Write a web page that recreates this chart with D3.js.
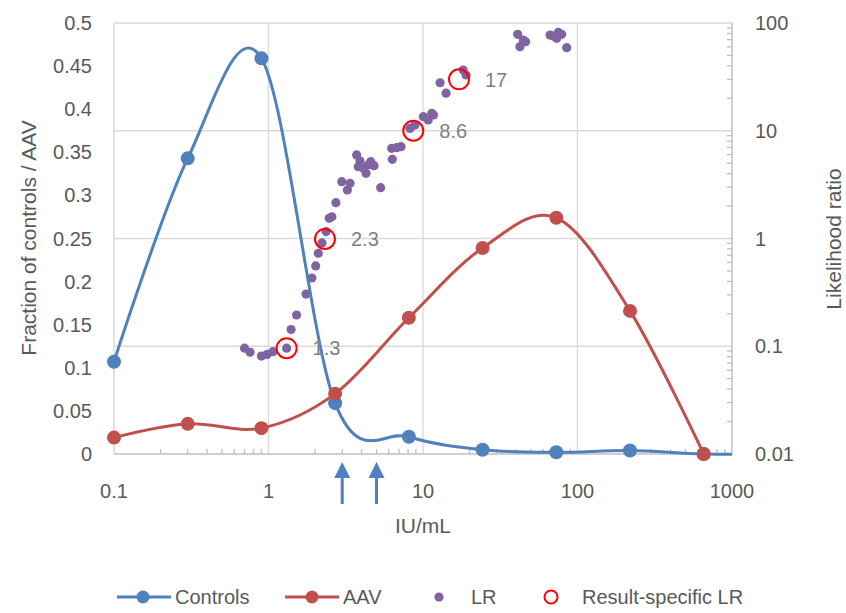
<!DOCTYPE html>
<html><head><meta charset="utf-8">
<script src="https://cdn.jsdelivr.net/npm/d3@7"></script>
<style>body{margin:0;background:#fff}svg text{font-family:"Liberation Sans",Arial,sans-serif}</style>
</head><body><svg id="c" width="846" height="613"></svg>
<script>
// ---- data ----
const iuValues = [0.1, 0.3, 0.9, 2.7, 8.1, 24.3, 72.9, 218.7, 656.1, 1968.3];
const controls = [0.107, 0.343, 0.459, 0.059, 0.020, 0.005, 0.002, 0.004, 0.000, 0.000];
const aav      = [0.019, 0.035, 0.030, 0.070, 0.158, 0.239, 0.274, 0.166, 0.000];
const lrX = [0.70,0.76,0.90,0.98,1.07,1.31,1.40,1.52,1.75,1.91,2.02,2.10,2.22,2.36,2.47,2.57,2.73,2.98,3.37,3.24,3.72,3.91,3.81,4.11,4.28,4.59,4.82,4.41,5.32,6.33,6.27,6.76,7.21,8.24,8.87,10.05,10.8,11.4,11.7,12.9,14.1,18.2,19.0,41.0,44.6,42.4,46.2,66.4,75.2,79.0,73.3,69.7,85.1];
const lrY = [0.096,0.088,0.081,0.084,0.089,0.096,0.143,0.195,0.305,0.43,0.556,0.73,0.91,1.16,1.54,1.59,2.15,3.37,3.25,2.82,5.96,5.24,4.64,4.48,4.03,5.16,4.74,4.81,2.96,5.43,6.87,6.96,7.11,10.5,11.3,13.5,12.6,14.5,14.0,27.9,22.3,36.6,32.9,78.5,69.5,60.3,67.0,77.4,82.0,78.5,72.1,75.7,59.0];
const resX = [1.31, 2.32, 8.65, 17.1];
const resY = [0.096, 0.99, 10.0, 30.0];
const resLabels = ["1.3", "2.3", "8.6", "17"];
const arrowX = [3, 5];
const xTicks = [0.1, 1, 10, 100, 1000];
const xTickLabels = ["0.1", "1", "10", "100", "1000"];
const yLeftTicks = [0,0.05,0.1,0.15,0.2,0.25,0.3,0.35,0.4,0.45,0.5];
const yLeftLabels = ["0","0.05","0.1","0.15","0.2","0.25","0.3","0.35","0.4","0.45","0.5"];
const yRightTicks = [0.01, 0.1, 1, 10, 100];
const yRightLabels = ["0.01","0.1","1","10","100"];
const legendItems = ["Controls", "AAV", "LR", "Result-specific LR"];

// ---- layout ----
const L = 114, R = 732, T = 23, B = 454;
const blue = "#4f81bd", red = "#c0504d", purple = "#8064a2", grid = "#d9d9d9", axisC = "#bfbfbf", txt = "#595959";
const svg = d3.select("#c");
const x = d3.scaleLog().domain([0.1, 1000]).range([L, R]);
const yL = d3.scaleLinear().domain([0, 0.5]).range([B, T]);
const yR = d3.scaleLog().domain([0.01, 100]).range([B, T]);

// grid
svg.append("g").selectAll("line").data(xTicks.slice(1, -1)).join("line")
  .attr("x1", d => x(d)).attr("x2", d => x(d)).attr("y1", T).attr("y2", B)
  .attr("stroke", grid).attr("stroke-width", 1.3);
svg.append("g").selectAll("line").data(yRightTicks.slice(1)).join("line")
  .attr("x1", L).attr("x2", R).attr("y1", d => yR(d)).attr("y2", d => yR(d))
  .attr("stroke", grid).attr("stroke-width", 1.3);

// minor ticks x
const xMinor = x.ticks().filter(d => !xTicks.includes(d));
svg.append("g").selectAll("line").data(xMinor).join("line")
  .attr("x1", d => x(d)).attr("x2", d => x(d)).attr("y1", B).attr("y2", B - 5)
  .attr("stroke", axisC).attr("stroke-width", 1.3);
// minor ticks right
const yMinor = yR.ticks().filter(d => !yRightTicks.includes(d));
svg.append("g").selectAll("line").data(yMinor).join("line")
  .attr("x1", R).attr("x2", R - 5).attr("y1", d => yR(d)).attr("y2", d => yR(d))
  .attr("stroke", axisC).attr("stroke-width", 1.3);

// axes lines
svg.append("line").attr("x1", L).attr("x2", R).attr("y1", B).attr("y2", B).attr("stroke", axisC).attr("stroke-width", 1.5);
svg.append("line").attr("x1", L).attr("x2", L).attr("y1", T).attr("y2", B).attr("stroke", grid).attr("stroke-width", 1.5);
svg.append("line").attr("x1", R).attr("x2", R).attr("y1", T).attr("y2", B).attr("stroke", axisC).attr("stroke-width", 1.5);

// tick labels
svg.append("g").selectAll("text").data(yLeftTicks).join("text")
  .attr("x", 92).attr("y", d => yL(d)).attr("dy", "0.35em").attr("text-anchor", "end")
  .attr("font-size", 20).attr("fill", txt).text((d, i) => yLeftLabels[i]);
svg.append("g").selectAll("text").data(yRightTicks).join("text")
  .attr("x", 755).attr("y", d => yR(d)).attr("dy", "0.35em")
  .attr("font-size", 20).attr("fill", txt).text((d, i) => yRightLabels[i]);
svg.append("g").selectAll("text").data(xTicks).join("text")
  .attr("x", d => x(d)).attr("y", 498).attr("text-anchor", "middle")
  .attr("font-size", 20).attr("fill", txt).text((d, i) => xTickLabels[i]);

// titles
svg.append("text").attr("x", 423).attr("y", 533).attr("text-anchor", "middle").attr("font-size", 21).attr("fill", txt).text("IU/mL");
svg.append("text").attr("transform", "translate(36,238) rotate(-90)").attr("text-anchor", "middle").attr("font-size", 21).attr("fill", txt).text("Fraction of controls / AAV");
svg.append("text").attr("transform", "translate(841,239) rotate(-90)").attr("text-anchor", "middle").attr("font-size", 21).attr("fill", txt).text("Likelihood ratio");

// clip
svg.append("clipPath").attr("id", "clip").append("rect").attr("x", L - 20).attr("y", 0).attr("width", R - L + 20).attr("height", 613);

const curve = d3.curveCatmullRom.alpha(0);
const lineC = d3.line().x((d, i) => x(iuValues[i])).y(d => yL(d)).curve(curve);

// LR scatter
svg.append("g").selectAll("circle").data(lrX).join("circle")
  .attr("cx", d => x(d)).attr("cy", (d, i) => yR(lrY[i])).attr("r", 4.6).attr("fill", purple);

// controls
svg.append("path").attr("d", lineC(controls)).attr("fill", "none").attr("stroke", blue).attr("stroke-width", 3).attr("clip-path", "url(#clip)");
svg.append("g").selectAll("circle").data(controls.filter((d, i) => iuValues[i] <= 1000)).join("circle")
  .attr("cx", (d, i) => x(iuValues[i])).attr("cy", d => yL(d)).attr("r", 7).attr("fill", blue);
// aav
svg.append("path").attr("d", lineC(aav)).attr("fill", "none").attr("stroke", red).attr("stroke-width", 3);
svg.append("g").selectAll("circle").data(aav).join("circle")
  .attr("cx", (d, i) => x(iuValues[i])).attr("cy", d => yL(d)).attr("r", 7).attr("fill", red);

// result-specific
svg.append("g").selectAll("circle").data(resX).join("circle")
  .attr("cx", d => x(d)).attr("cy", (d, i) => yR(resY[i])).attr("r", 10)
  .attr("fill", "none").attr("stroke", "#ff0000").attr("stroke-width", 2);
svg.append("g").selectAll("text").data(resX).join("text")
  .attr("x", d => x(d) + 26).attr("y", (d, i) => yR(resY[i])).attr("dy", "0.36em")
  .attr("font-size", 20).attr("fill", "#7f7f7f").text((d, i) => resLabels[i]);

// arrows
const ag = svg.append("g").selectAll("g").data(arrowX).join("g").attr("transform", d => `translate(${x(d)},0)`);
ag.append("line").attr("x1", 0).attr("x2", 0).attr("y1", 476).attr("y2", 504).attr("stroke", blue).attr("stroke-width", 3);
ag.append("path").attr("d", "M0,462L8,478L-8,478Z").attr("fill", blue);

// legend
const ly = 597;
const lg = svg.append("g");
lg.append("line").attr("x1", 117).attr("x2", 171).attr("y1", ly).attr("y2", ly).attr("stroke", blue).attr("stroke-width", 3);
lg.append("circle").attr("cx", 143).attr("cy", ly).attr("r", 6.5).attr("fill", blue);
lg.append("line").attr("x1", 285).attr("x2", 339).attr("y1", ly).attr("y2", ly).attr("stroke", red).attr("stroke-width", 3);
lg.append("circle").attr("cx", 312).attr("cy", ly).attr("r", 6.5).attr("fill", red);
lg.append("circle").attr("cx", 439).attr("cy", ly).attr("r", 4.6).attr("fill", purple);
lg.append("circle").attr("cx", 551).attr("cy", ly).attr("r", 6.5).attr("fill", "none").attr("stroke", "#ff0000").attr("stroke-width", 2);
const lx = [175, 343, 471, 582];
lg.selectAll("text").data(legendItems).join("text")
  .attr("x", (d, i) => lx[i]).attr("y", ly).attr("dy", "0.36em").attr("font-size", 20).attr("fill", txt).text(d => d);
</script></body></html>
